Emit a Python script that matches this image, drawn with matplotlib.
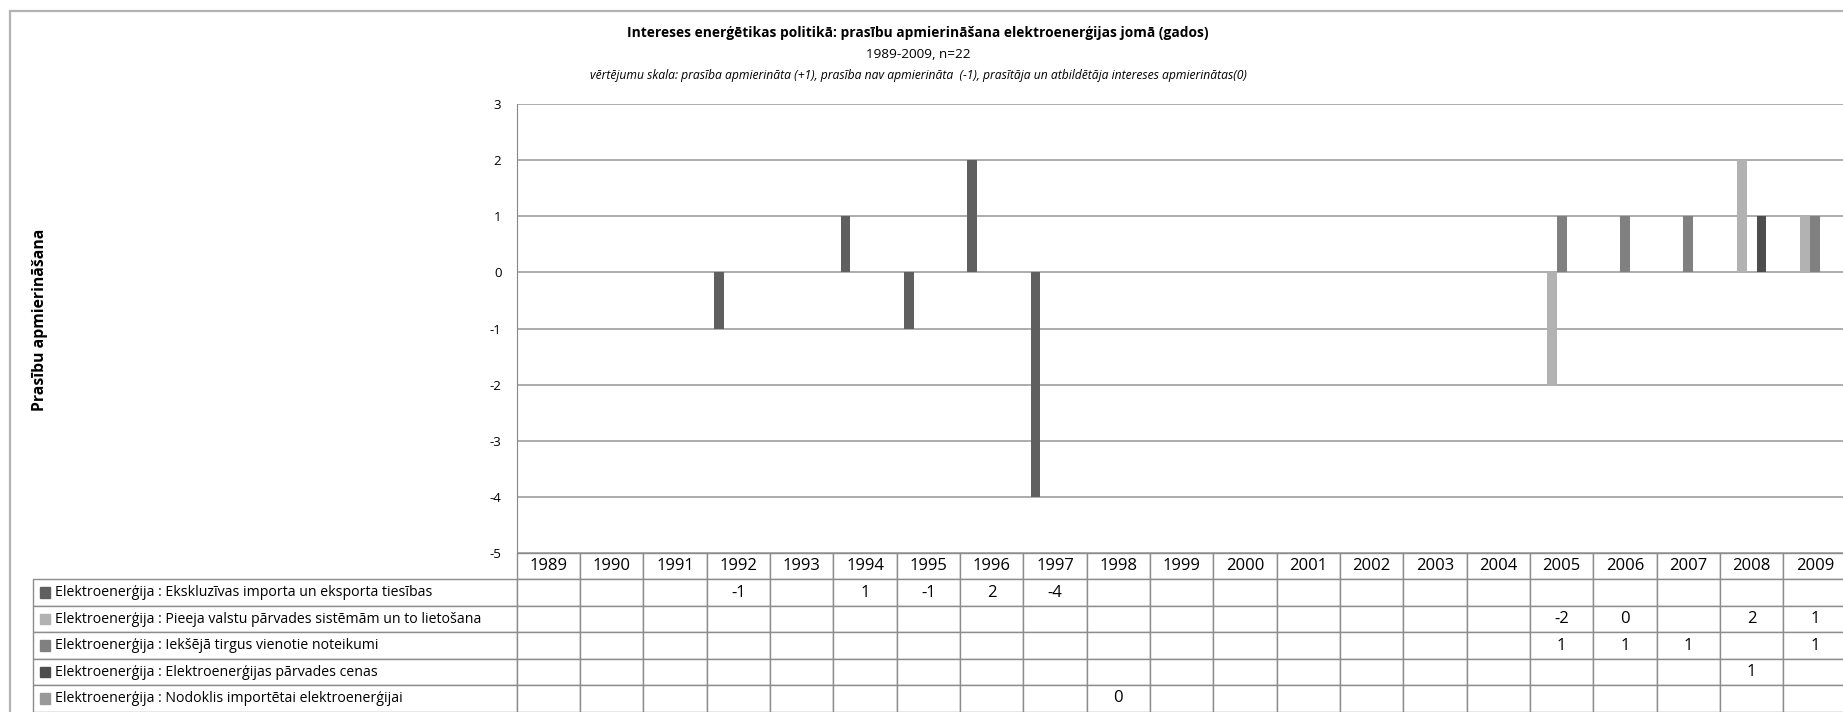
"""Elektroenerģijas prasību apmierināšana 1989-2009: stabiņi + datu tabula (Excel stilā)."""
import matplotlib

matplotlib.use("Agg")
import matplotlib.pyplot as plt
import numpy as np
from matplotlib.patches import Rectangle

plt.rcParams["font.family"] = ["Open Sans", "DejaVu Sans"]
plt.rcParams["axes.unicode_minus"] = False

nan = np.nan
years = [str(y) for y in range(1989, 2010)]

series_names = [
    "Elektroenerģija : Ekskluzīvas importa un eksporta tiesības",
    "Elektroenerģija : Pieeja valstu pārvades sistēmām un to lietošana",
    "Elektroenerģija : Iekšējā tirgus vienotie noteikumi",
    "Elektroenerģija : Elektroenerģijas pārvades cenas",
    "Elektroenerģija : Nodoklis importētai elektroenerģijai",
]
#                  89   90   91   92   93   94   95   96   97   98   99   00   01   02   03   04   05   06   07   08   09
ekskluzivas = [nan, nan, nan, -1, nan, 1, -1, 2, -4, nan, nan, nan, nan, nan, nan, nan, nan, nan, nan, nan, nan]
pieeja = [nan, nan, nan, nan, nan, nan, nan, nan, nan, nan, nan, nan, nan, nan, nan, nan, -2, 0, nan, 2, 1]
iekseja_tirgus = [nan, nan, nan, nan, nan, nan, nan, nan, nan, nan, nan, nan, nan, nan, nan, nan, 1, 1, 1, nan, 1]
parvades_cenas = [nan, nan, nan, nan, nan, nan, nan, nan, nan, nan, nan, nan, nan, nan, nan, nan, nan, nan, nan, 1, nan]
nodoklis = [nan, nan, nan, nan, nan, nan, nan, nan, nan, 0, nan, nan, nan, nan, nan, nan, nan, nan, nan, nan, nan]
series_values = [ekskluzivas, pieeja, iekseja_tirgus, parvades_cenas, nodoklis]
colors = ["#5f5f5f", "#b2b2b2", "#808080", "#4d4d4d", "#999999"]

y_ticks = list(range(-5, 4))

W, H = 1843, 712
fig = plt.figure(figsize=(W / 100, H / 100), dpi=100)

# plot area in pixels (left, top, right, bottom) -> figure fraction
px_l, px_t, px_r, px_b = 516.7, 104.0, 1846.7, 553.0
ax = fig.add_axes([px_l / W, 1 - px_b / H, (px_r - px_l) / W, (px_b - px_t) / H])

n_cat = len(years)
n_ser = len(series_values)
gap = 1.5  # Excel gap width 150 %
bw = 1 / (n_ser + gap)
x = np.arange(n_cat)
for k, (vals, col) in enumerate(zip(series_values, colors)):
    offs = -0.5 + (gap / 2 + k + 0.5) * bw
    ax.bar(x + offs, vals, width=bw, color=col, linewidth=0, zorder=3)

ax.set_xlim(-0.5, n_cat - 0.5)
ax.set_ylim(-5, 3)
ax.set_yticks(y_ticks)
ax.set_xticks([])
ax.yaxis.grid(True, color="#969696", linewidth=1.1, zorder=0)
ax.tick_params(axis="y", length=0, pad=11, labelsize=9.5)
for side in ["top", "right", "bottom"]:
    ax.spines[side].set_visible(False)
ax.spines["left"].set_color("#868686")

# datu tabula zem grafika
tbl_l = 33.3
tbl_bottom = 711.7
rows = [[""] + years]
for name, vals in zip(series_names, series_values):
    rows.append([name] + ["" if np.isnan(v) else f"{int(v)}" for v in vals])
col_w = [px_l - tbl_l] + [(px_r - px_l) / n_cat] * n_cat
bx0 = (tbl_l - px_l) / (px_r - px_l)
bw_ax = (px_r - tbl_l) / (px_r - px_l)
bh_ax = (tbl_bottom - px_b) / (px_b - px_t)
table = ax.table(cellText=rows, colWidths=col_w, cellLoc="center",
                 bbox=[bx0, -bh_ax, bw_ax, bh_ax])
table.auto_set_font_size(False)
table.set_fontsize(12)
for (r, c), cell in table.get_celld().items():
    cell.set_edgecolor("#8c8c8c")
    cell.set_linewidth(1.0)
    if r == 0 and c == 0:
        cell.visible_edges = ""
    if c == 0 and r > 0:
        cell._loc = "left"
        cell.PAD = (55 - tbl_l) / (px_l - tbl_l)
        cell.get_text().set_horizontalalignment("left")
        cell.get_text().set_fontsize(10.2)

# leģendas kvadrātiņi tabulas pirmajā kolonnā
row_h = bh_ax / len(rows)
sq_w = 10.5 / (px_r - px_l)
sq_h = 10.5 / (px_b - px_t)
for i, col in enumerate(colors):
    yc = -row_h * (i + 1.5)
    ax.add_patch(Rectangle(((40 - px_l) / (px_r - px_l), yc - sq_h / 2), sq_w, sq_h,
                           transform=ax.transAxes, color=col, clip_on=False, zorder=5))

# virsraksti
cx = 918 / W
fig.text(cx, 1 - 33 / H, "Intereses enerģētikas politikā: prasību apmierināšana "
         "elektroenerģijas jomā (gados)", ha="center", va="center",
         fontsize=9.9, fontweight="bold")
fig.text(cx, 1 - 54 / H, "1989-2009, n=22", ha="center", va="center", fontsize=9.7)
fig.text(cx, 1 - 75 / H, "vērtējumu skala: prasība apmierināta (+1), prasība nav apmierināta  (-1), "
         "prasītāja un atbildētāja intereses apmierinātas(0)", ha="center", va="center",
         fontsize=8.7, style="italic")
fig.text(40 / W, 1 - 320 / H, "Prasību apmierināšana", rotation=90, ha="center",
         va="center", fontsize=11.3, fontweight="bold")

# ārējā diagrammas apmale
fig.patches.append(Rectangle((9.5 / W, -0.1), 2, 1.1 - 11 / H, transform=fig.transFigure,
                             fill=False, edgecolor="#b3b3b3", linewidth=1.6))

fig.savefig("out.png", dpi=100)
